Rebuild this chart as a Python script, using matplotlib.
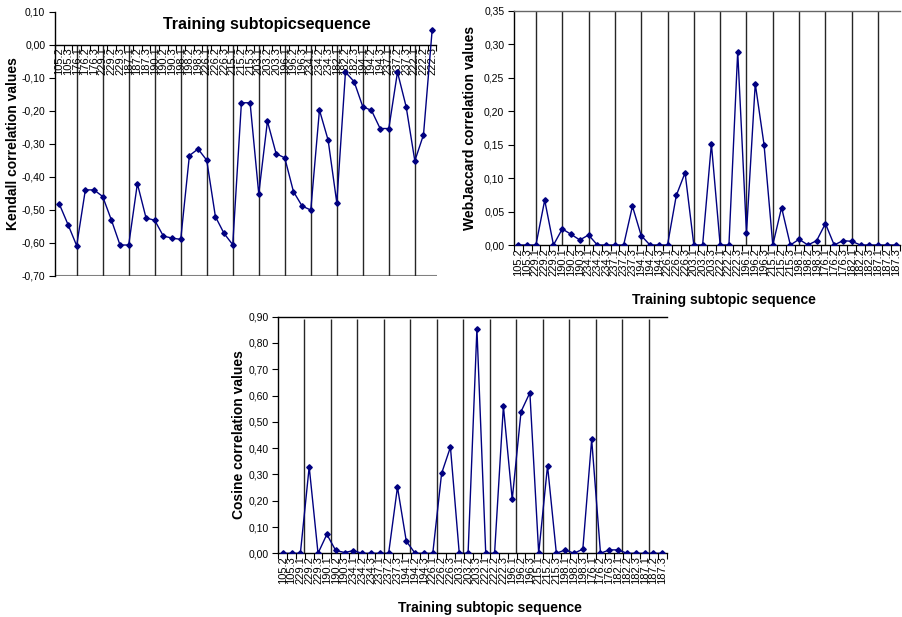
import matplotlib
matplotlib.use("Agg")
import matplotlib.pyplot as plt
from matplotlib.ticker import FixedLocator, FuncFormatter, NullFormatter

plt.rcParams['font.family'] = ['Liberation Sans', 'DejaVu Sans']

# Subtopic order used in the Kendall chart
kendall_labels = ['105.2', '105.3', '176.1', '176.2', '176.3', '229.1', '229.2', '229.3',
                  '187.1', '187.2', '187.3', '190.1', '190.2', '190.3', '198.1', '198.2',
                  '198.3', '226.1', '226.2', '226.3', '215.1', '215.2', '215.3', '203.1',
                  '203.2', '203.3', '196.1', '196.2', '196.3', '234.1', '234.2', '234.3',
                  '182.1', '182.2', '182.3', '194.1', '194.2', '194.3', '237.1', '237.2',
                  '237.3', '222.1', '222.2', '222.3']
kendall_values = [-0.483, -0.545, -0.609, -0.440, -0.440, -0.460, -0.531, -0.607,
                  -0.607, -0.421, -0.525, -0.532, -0.580, -0.586, -0.590, -0.336,
                  -0.316, -0.350, -0.521, -0.572, -0.606, -0.176, -0.176, -0.452,
                  -0.232, -0.330, -0.343, -0.445, -0.489, -0.501, -0.198, -0.289,
                  -0.479, -0.083, -0.112, -0.188, -0.199, -0.254, -0.254, -0.083,
                  -0.188, -0.352, -0.273, 0.045]

# Subtopic order used in the WebJaccard and Cosine charts
seq_labels = ['105.2', '105.3', '229.1', '229.2', '229.3', '190.1', '190.2', '190.3',
              '234.1', '234.2', '234.3', '237.1', '237.2', '237.3', '194.1', '194.2',
              '194.3', '226.1', '226.2', '226.3', '203.1', '203.2', '203.3', '222.1',
              '222.2', '222.3', '196.1', '196.2', '196.3', '215.1', '215.2', '215.3',
              '198.1', '198.2', '198.3', '176.1', '176.2', '176.3', '182.1', '182.2',
              '182.3', '187.1', '187.2', '187.3']
jaccard_values = [0, 0, 0, 0.067, 0, 0.024, 0.016, 0.0075,
                  0.015, 0, 0, 0, 0, 0.058, 0.014, 0,
                  0, 0, 0.074, 0.108, 0, 0, 0.151, 0,
                  0, 0.289, 0.018, 0.241, 0.150, 0, 0.056, 0,
                  0.0085, 0, 0.0065, 0.032, 0, 0.0065, 0.0055, 0,
                  0, 0, 0, 0]
cosine_values = [0, 0, 0, 0.329, 0, 0.072, 0.011, 0.003,
                 0.010, 0, 0, 0, 0, 0.252, 0.046, 0,
                 0, 0, 0.304, 0.404, 0, 0, 0.854, 0,
                 0, 0.560, 0.205, 0.539, 0.611, 0, 0.333, 0,
                 0.013, 0, 0.016, 0.433, 0, 0.013, 0.013, 0,
                 0, 0, 0, 0]

LINE = '#000080'
FIG_W, FIG_H = 902, 617
TITLE_SIZE = 10


def comma_fmt(v, pos):
    return f"{v:.2f}".replace('.', ',')


def px_axes(fig, left, top, right, bottom):
    # place an axes using pixel edges of the 902x617 canvas
    return fig.add_axes([left / FIG_W, 1 - bottom / FIG_H,
                         (right - left) / FIG_W, (bottom - top) / FIG_H])


def style_axes(ax, labels, values, ymin, ymax, ystep):
    n = len(labels)
    xs = list(range(n))
    ax.plot(xs, values, color=LINE, lw=1, marker='D', ms=2.8, zorder=3)
    ax.set_xlim(-0.5, n - 0.5)
    ax.set_ylim(ymin, ymax)

    # category ticks sit between the categories, labels at the centres
    ax.xaxis.set_major_locator(FixedLocator([i - 0.5 for i in range(n + 1)]))
    ax.xaxis.set_major_formatter(NullFormatter())
    ax.xaxis.set_minor_locator(FixedLocator(xs))
    ax.set_xticklabels(labels, minor=True, rotation=90, fontsize=8)
    ax.tick_params(axis='x', which='major', direction='out', length=4, width=0.8)
    ax.tick_params(axis='x', which='minor', length=0, pad=2)

    nsteps = int(round((ymax - ymin) / ystep))
    ax.yaxis.set_major_locator(FixedLocator([ymin + i * ystep for i in range(nsteps + 1)]))
    ax.yaxis.set_major_formatter(FuncFormatter(comma_fmt))
    ax.tick_params(axis='y', direction='out', length=4, width=0.8, labelsize=7.5, pad=3)

    ax.spines['right'].set_visible(False)
    for s in ('left', 'bottom', 'top'):
        ax.spines[s].set_linewidth(1)
        ax.spines[s].set_color('black')

    # group separators at the first subtopic of each topic
    return [i for i, lab in enumerate(labels) if lab.endswith('.1')]


fig = plt.figure(figsize=(FIG_W / 100, FIG_H / 100), dpi=100)

# Kendall chart (top left), category axis crosses at zero
ax1 = px_axes(fig, 55, 11.7, 436.5, 275.7)
ax1.spines['bottom'].set_position(('data', 0))
groups = style_axes(ax1, kendall_labels, kendall_values, -0.70, 0.10, 0.10)
ax1.spines['top'].set_visible(False)
ax1.axhline(-0.70, color='0.5', lw=1.5, zorder=1)
ax1.vlines(groups, -0.70, 0, color='0.15', lw=1, zorder=1)
ax1.set_ylabel('Kendall correlation values', fontsize=TITLE_SIZE, fontweight='bold')
ax1.yaxis.set_label_coords(-0.093, 0.5)
ax1.text(0.554, 0.953, 'Training subtopicsequence', transform=ax1.transAxes,
         ha='center', va='center', fontsize=11.5, fontweight='bold')

# WebJaccard chart (top right)
ax2 = px_axes(fig, 514, 10.7, 900, 245)
groups = style_axes(ax2, seq_labels, jaccard_values, 0.0, 0.35, 0.05)
ax2.spines['top'].set_color('0.4')
ax2.vlines(groups, 0, 0.35, color='0.15', lw=1, zorder=1)
ax2.set_ylabel('WebJaccard correlation values', fontsize=TITLE_SIZE, fontweight='bold')
ax2.yaxis.set_label_coords(-0.097, 0.5)
ax2.set_xlabel('Training subtopic sequence', fontsize=TITLE_SIZE, fontweight='bold')
ax2.xaxis.set_label_coords(0.545, -0.205)

# Cosine chart (bottom centre)
ax3 = px_axes(fig, 278.3, 316.7, 666.7, 553.3)
groups = style_axes(ax3, seq_labels, cosine_values, 0.0, 0.90, 0.10)
ax3.vlines([g + 0.45 for g in groups], 0, 0.89, color='0.15', lw=1, zorder=1)
ax3.set_ylabel('Cosine correlation values', fontsize=TITLE_SIZE, fontweight='bold')
ax3.yaxis.set_label_coords(-0.082, 0.5)
ax3.set_xlabel('Training subtopic sequence', fontsize=TITLE_SIZE, fontweight='bold')
ax3.xaxis.set_label_coords(0.544, -0.2)

fig.savefig('out.png', dpi=100)
